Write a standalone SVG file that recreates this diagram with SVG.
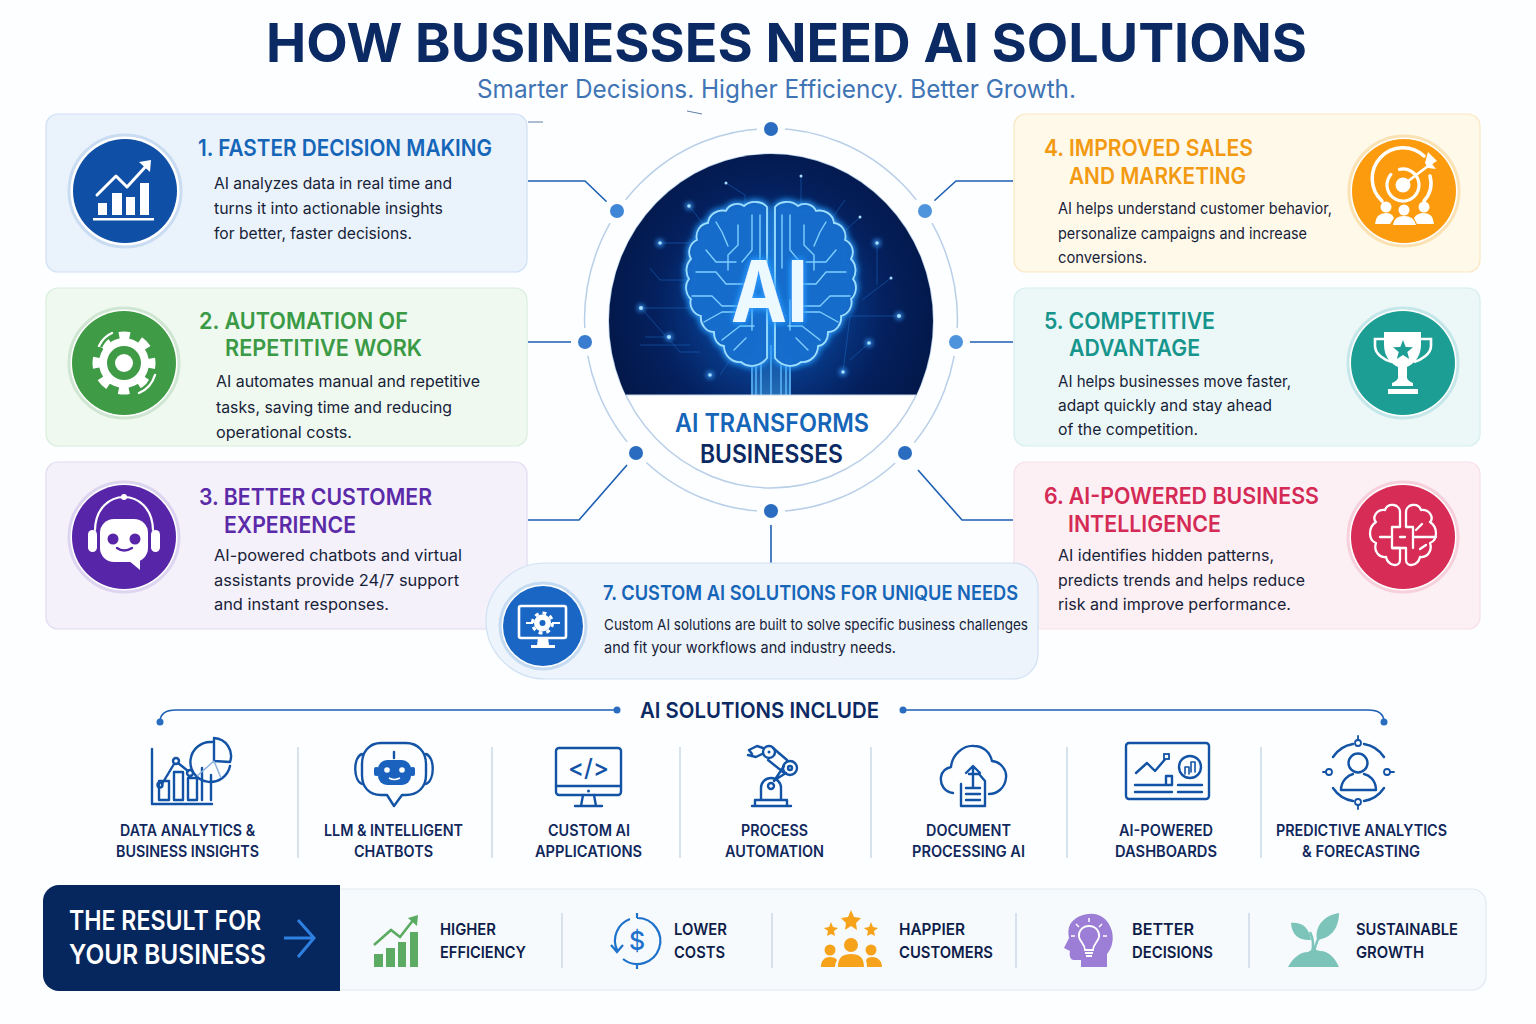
<svg xmlns="http://www.w3.org/2000/svg" width="1536" height="1024" viewBox="0 0 1536 1024">
<defs>
<style>
text{font-family:"Inter","Liberation Sans",sans-serif}
.h{font-size:23px;font-weight:600}
.b{font-size:16px;fill:#172238}
.lab{font-size:15.5px;font-weight:600;fill:#10285c}
.res{font-size:16.5px;font-weight:600;fill:#0e1d4a}
.ic{fill:none;stroke:#1253a6;stroke-width:2.4;stroke-linecap:round;stroke-linejoin:round}
.w{fill:none;stroke:#fff;stroke-width:3;stroke-linecap:round;stroke-linejoin:round}
.conn{fill:none;stroke:#1c5fb4;stroke-width:1.6}
.dot{stroke:none}
.sep{stroke:#ccd9e8;stroke-width:1.5}
.tr{fill:none;stroke:#7fd0ff;stroke-width:1.4;stroke-linecap:round;stroke-linejoin:round}
.bg{fill:none;stroke:#1a66bd;stroke-width:1;opacity:.55}
.halo{fill:#fff;stroke-width:3}
</style>
<radialGradient id="core" cx="50%" cy="46%" r="52%">
<stop offset="0" stop-color="#0c5cc0"/><stop offset=".35" stop-color="#083c8c"/><stop offset=".68" stop-color="#04205e"/><stop offset="1" stop-color="#031849"/>
</radialGradient>
<linearGradient id="beam" x1="0" y1="0" x2="0" y2="1"><stop offset="0" stop-color="#2fa0ff" stop-opacity=".1"/><stop offset="1" stop-color="#49b6ff" stop-opacity=".85"/></linearGradient>
<filter id="glow" x="-30%" y="-30%" width="160%" height="160%"><feGaussianBlur in="SourceAlpha" stdDeviation="3.5" result="b"/><feFlood flood-color="#2c9cff"/><feComposite in2="b" operator="in" result="g"/><feMerge><feMergeNode in="g"/><feMergeNode in="g"/><feMergeNode in="SourceGraphic"/></feMerge></filter>
<filter id="soft" x="-100%" y="-100%" width="300%" height="300%"><feGaussianBlur stdDeviation="2"/></filter>
<clipPath id="coreClip"><path d="M609 395V100H933V395Z"/></clipPath>
<path id="hemi" d="M767 207C762 201 751 200 744 206C738 202 729 204 726 211C718 209 709 214 708 223C700 224 695 232 697 240C690 243 687 252 691 259C686 264 685 273 689 279C684 285 686 295 691 299C689 306 693 314 701 316C700 324 706 332 714 332C714 340 718 345 724 346C724 355 732 363 741 362C748 368 760 367 767 358Z"/>
<g id="hemiTraces">
<path d="M752 215V250L742 262M738 225V245L728 255V270M722 232L728 246M706 250L716 262L736 262M696 272H716L726 284H744M692 296H712L722 306H742M704 322L722 312H738M722 340L740 326H754M752 300V330M760 215V268M716 222L722 232M734 350L746 338"/>
</g>
</defs>
<rect width="1536" height="1024" fill="#fdfeff"/>
<text x="266" y="62" font-size="54" font-weight="700" fill="#0b2a63" textLength="1041" lengthAdjust="spacingAndGlyphs">HOW BUSINESSES NEED AI SOLUTIONS</text>
<text x="477" y="98" font-size="25" fill="#3f74b5" textLength="599" lengthAdjust="spacingAndGlyphs">Smarter Decisions. Higher Efficiency. Better Growth.</text>

<g id="connectors">
<path class="conn" d="M528 181H585L608 203"/>
<path class="conn" d="M1013 181H956L934 201"/>
<path class="conn" d="M528 342H573"/>
<path class="conn" d="M969 342H1013"/>
<path class="conn" d="M528 520H579L627 465"/>
<path class="conn" d="M1013 520H962L918 470"/>
<path class="conn" d="M771 524V563"/>
<path class="conn" d="M617 710H176Q160 710 160 722"/>
<path class="conn" d="M903 710H1368Q1384 710 1384 722"/>
<circle class="dot" cx="617" cy="710" r="3.5" fill="#2a6cc0"/>
<circle class="dot" cx="160" cy="722" r="3.5" fill="#2a6cc0"/>
<circle class="dot" cx="903" cy="710" r="3.5" fill="#2a6cc0"/>
<circle class="dot" cx="1384" cy="722" r="3.5" fill="#2a6cc0"/>
<path d="M528 122H543M687 111L702 114" stroke="#5f7fa8" stroke-width="1" fill="none"/>
</g>

<g id="node-1">
<rect x="46" y="114" width="481" height="158" rx="12" fill="#eaf3fc" stroke="#cfe0f3" stroke-width="1.2"/>
<circle class="halo" cx="125" cy="191" r="56" stroke="#c9dcf2"/>
<circle cx="125" cy="191" r="52" fill="#0f4fa6"/>
<path fill="#fff" d="M98 203h9v12h-9zM112 193h10v22h-10zM126 197h9v18h-9zM140 183h9v32h-9zM93 218h61v2.6H93z"/>
<path class="w" d="M97 195L116 176L127 187L148 164"/>
<path fill="#fff" d="M139 162L151 160L150 172Z"/>
<text class="h" x="198" y="156" fill="#1565b8" textLength="294" lengthAdjust="spacingAndGlyphs">1. FASTER DECISION MAKING</text>
<text class="b" x="214" y="189" textLength="238" lengthAdjust="spacingAndGlyphs">AI analyzes data in real time and</text>
<text class="b" x="214" y="214" textLength="229" lengthAdjust="spacingAndGlyphs">turns it into actionable insights</text>
<text class="b" x="214" y="239" textLength="198" lengthAdjust="spacingAndGlyphs">for better, faster decisions.</text>
</g>

<g id="node-2">
<rect x="46" y="288" width="481" height="158" rx="12" fill="#eff9f0" stroke="#d9eddc" stroke-width="1.2"/>
<circle class="halo" cx="124" cy="363" r="55" stroke="#cfe6d2"/>
<circle cx="124" cy="363" r="52" fill="#3f9b45"/>
<circle cx="124" cy="363" r="25" fill="#fff"/>
<circle cx="124" cy="363" r="27" fill="none" stroke="#fff" stroke-width="9" stroke-dasharray="10.6" stroke-dashoffset="5.3"/>
<circle cx="124" cy="363" r="17" fill="#3f9b45"/>
<circle cx="124" cy="363" r="9" fill="#fff"/>
<path d="M99 346Q103 337 112 333M139 393Q151 388 155 375" fill="none" stroke="#3f9b45" stroke-width="7"/>
<path class="w" style="stroke-width:2.4" d="M99 346Q103 337 112 333M139 393Q151 388 155 375"/>
<text class="h" x="199" y="329" fill="#3b9a45" textLength="209" lengthAdjust="spacingAndGlyphs">2. AUTOMATION OF</text>
<text class="h" x="225" y="356" fill="#3b9a45" textLength="197" lengthAdjust="spacingAndGlyphs">REPETITIVE WORK</text>
<text class="b" x="216" y="387" textLength="264" lengthAdjust="spacingAndGlyphs">AI automates manual and repetitive</text>
<text class="b" x="216" y="413" textLength="236" lengthAdjust="spacingAndGlyphs">tasks, saving time and reducing</text>
<text class="b" x="216" y="438" textLength="136" lengthAdjust="spacingAndGlyphs">operational costs.</text>
</g>

<g id="node-3">
<rect x="46" y="462" width="481" height="167" rx="12" fill="#f5f1fb" stroke="#e2daf2" stroke-width="1.2"/>
<circle class="halo" cx="124" cy="537" r="55" stroke="#ddd5f0"/>
<circle cx="124" cy="537" r="52" fill="#5726a8"/>
<path class="w" style="stroke-width:2.2" d="M95 530C96 486 152 486 153 530"/>
<circle cx="124" cy="497" r="3" fill="#fff"/>
<rect x="88" y="530" width="9" height="22" rx="4.500" fill="#fff"/>
<rect x="151" y="530" width="9" height="22" rx="4.500" fill="#fff"/>
<rect x="100" y="519" width="48" height="43" rx="14" fill="#fff"/>
<path fill="#fff" d="M128 560L140 570V556Z"/>
<circle cx="113" cy="539" r="5.500" fill="#5726a8"/><circle cx="135" cy="539" r="5.500" fill="#5726a8"/>
<path d="M117 548Q124 553 132 548" fill="none" stroke="#5726a8" stroke-width="2.4" stroke-linecap="round"/>
<text class="h" x="199" y="505" fill="#5b2aa8" textLength="233" lengthAdjust="spacingAndGlyphs">3. BETTER CUSTOMER</text>
<text class="h" x="224" y="533" fill="#5b2aa8" textLength="132" lengthAdjust="spacingAndGlyphs">EXPERIENCE</text>
<text class="b" x="214" y="561" textLength="248" lengthAdjust="spacingAndGlyphs">AI-powered chatbots and virtual</text>
<text class="b" x="214" y="586" textLength="245" lengthAdjust="spacingAndGlyphs">assistants provide 24/7 support</text>
<text class="b" x="214" y="610" textLength="175" lengthAdjust="spacingAndGlyphs">and instant responses.</text>
</g>

<g id="node-4">
<rect x="1014" y="114" width="466" height="158" rx="12" fill="#fff9ea" stroke="#fae6c0" stroke-width="1.2"/>
<circle class="halo" cx="1404" cy="191" r="55" stroke="#fbe2b4"/>
<circle cx="1404" cy="191" r="52" fill="#fb9b0d"/>
<g fill="none" stroke="#fff" stroke-linecap="round">
<path stroke-width="3.5" d="M1382 201A26 26 0 1 1 1424 156M1430 176A27 27 0 0 1 1424 201"/>
<circle cx="1403" cy="185" r="16" stroke-width="3.2" stroke-dasharray="78 10" transform="rotate(-60 1403 185)"/>
<path stroke-width="2.6" d="M1403 185L1432 163"/>
</g>
<circle cx="1403" cy="185" r="7.500" fill="#fff"/>
<path fill="#fff" d="M1425 163L1428 152L1433 157L1437 161L1432 164L1436 169L1428 168Z"/>
<circle cx="1386" cy="207" r="5.500" fill="#fff"/><circle cx="1404" cy="210" r="5.500" fill="#fff"/><circle cx="1424" cy="207" r="5.500" fill="#fff"/>
<path fill="#fff" d="M1375 224Q1376 213 1386 213Q1392 213 1394 218L1390 224ZM1393 225Q1394 216 1404 216Q1414 216 1416 225ZM1417 224L1414 218Q1417 213 1424 213Q1433 213 1434 224Z"/>
<text class="h" x="1044" y="156" fill="#f29a12" textLength="209" lengthAdjust="spacingAndGlyphs">4. IMPROVED SALES</text>
<text class="h" x="1069" y="184" fill="#f29a12" textLength="177" lengthAdjust="spacingAndGlyphs">AND MARKETING</text>
<text class="b" x="1058" y="214" textLength="274" lengthAdjust="spacingAndGlyphs">AI helps understand customer behavior,</text>
<text class="b" x="1058" y="239" textLength="249" lengthAdjust="spacingAndGlyphs">personalize campaigns and increase</text>
<text class="b" x="1058" y="263" textLength="89" lengthAdjust="spacingAndGlyphs">conversions.</text>
</g>

<g id="node-5">
<rect x="1014" y="288" width="466" height="158" rx="12" fill="#ecf8f7" stroke="#d6edee" stroke-width="1.2"/>
<circle class="halo" cx="1403" cy="363" r="55" stroke="#c5e7ea"/>
<circle cx="1403" cy="363" r="52" fill="#1d9e94"/>
<path fill="#fff" d="M1384 332H1421V345C1421 358 1412 365 1407 367V378Q1408 381 1413 383V386H1392V383Q1397 381 1398 378V367C1393 365 1384 358 1384 345Z"/>
<path d="M1384 339H1375V346C1375 354 1384 360 1392 362M1421 339H1431V346C1431 354 1421 360 1414 362" fill="none" stroke="#fff" stroke-width="2.600"/>
<rect x="1388" y="389" width="30" height="5" fill="#fff"/>
<path fill="#1d9e94" d="M1403 340L1405.7 346.9L1413 347.3L1407.3 352L1409.2 359.1L1403 355.1L1396.8 359.1L1398.7 352L1393 347.3L1400.3 346.9Z"/>
<text class="h" x="1044" y="329" fill="#17958c" textLength="171" lengthAdjust="spacingAndGlyphs">5. COMPETITIVE</text>
<text class="h" x="1069" y="356" fill="#17958c" textLength="131" lengthAdjust="spacingAndGlyphs">ADVANTAGE</text>
<text class="b" x="1058" y="387" textLength="233" lengthAdjust="spacingAndGlyphs">AI helps businesses move faster,</text>
<text class="b" x="1058" y="411" textLength="214" lengthAdjust="spacingAndGlyphs">adapt quickly and stay ahead</text>
<text class="b" x="1058" y="435" textLength="140" lengthAdjust="spacingAndGlyphs">of the competition.</text>
</g>

<g id="node-6">
<rect x="1014" y="462" width="466" height="167" rx="12" fill="#fcf0f4" stroke="#f7dfe6" stroke-width="1.2"/>
<circle class="halo" cx="1403" cy="537" r="55" stroke="#f6d0da"/>
<circle cx="1403" cy="537" r="52" fill="#d62c55"/>
<g class="w" style="stroke-width:2.3">
<path d="M1392 548V527H1400V512C1400 504 1388 502 1385 510C1376 509 1372 518 1376 522C1368 527 1368 540 1376 543C1373 552 1380 558 1386 557C1388 566 1400 568 1400 560V548Z"/>
<path d="M1413 548V527H1406V512C1406 504 1418 502 1421 510C1430 509 1434 518 1430 522C1438 527 1438 540 1430 543C1433 552 1426 558 1420 557C1418 566 1406 568 1406 560V548H1392"/>
<path d="M1380 537H1390M1414 537H1436M1422 524L1416 530M1420 549L1426 545M1400 537H1405"/>
</g>
<text class="h" x="1044" y="504" fill="#d42a55" textLength="275" lengthAdjust="spacingAndGlyphs">6. AI-POWERED BUSINESS</text>
<text class="h" x="1068" y="532" fill="#d42a55" textLength="153" lengthAdjust="spacingAndGlyphs">INTELLIGENCE</text>
<text class="b" x="1058" y="561" textLength="216" lengthAdjust="spacingAndGlyphs">AI identifies hidden patterns,</text>
<text class="b" x="1058" y="586" textLength="247" lengthAdjust="spacingAndGlyphs">predicts trends and helps reduce</text>
<text class="b" x="1058" y="610" textLength="233" lengthAdjust="spacingAndGlyphs">risk and improve performance.</text>
</g>

<g id="node-7">
<path d="M546 563H1013A25 25 0 0 1 1038 588V654A25 25 0 0 1 1013 679H546C512 679 486 652 486 621C486 590 512 563 546 563Z" fill="#edf4fc" stroke="#cfe0f3" stroke-width="1.2"/>
<circle class="halo" cx="543" cy="626" r="43" stroke="#c5dbf2"/>
<circle cx="543" cy="626" r="40" fill="#1a66c4"/>
<rect x="519" y="606" width="47" height="32" rx="2" fill="none" stroke="#fff" stroke-width="2.600"/>
<path fill="#fff" d="M538 638H548L549 645H555V648H531V645H537Z"/>
<circle cx="542.500" cy="623" r="8.500" fill="#fff"/>
<circle cx="542.500" cy="623" r="10" fill="none" stroke="#fff" stroke-width="3" stroke-dasharray="3.900"/>
<circle cx="542.500" cy="623" r="3" fill="#1a66c4"/>
<path d="M526 623H533M552 623H560" stroke="#fff" stroke-width="2"/>
<text x="603" y="600" font-size="20.500" font-weight="600" fill="#1565b8" textLength="415" lengthAdjust="spacingAndGlyphs">7. CUSTOM AI SOLUTIONS FOR UNIQUE NEEDS</text>
<text class="b" x="604" y="630" style="font-size:15px" textLength="424" lengthAdjust="spacingAndGlyphs">Custom AI solutions are built to solve specific business challenges</text>
<text class="b" x="604" y="653" style="font-size:15px" textLength="292" lengthAdjust="spacingAndGlyphs">and fit your workflows and industry needs.</text>
</g>

<g id="node-center">
<ellipse cx="771" cy="320" rx="186.500" ry="191.500" fill="none" stroke="#b9cfe8" stroke-width="1.500"/>
<ellipse cx="771" cy="321" rx="162" ry="167" fill="#fff" stroke="#b9cfe8" stroke-width="1.500"/>
<g clip-path="url(#coreClip)">
<ellipse cx="771" cy="321" rx="162" ry="167" fill="url(#core)"/>
<g class="bg">
<path d="M689 206L720 245V258M660 243H690M641 308H690M641 308L680 352H700M669 337H645M726 183L745 195V220M801 176V215M860 217L835 240M877 243V285M891 278L862 300M899 316H850L843 372M869 343L850 360M650 268L660 280H685M845 200L825 228M720 375L740 345M640 345H690"/>
</g>
<g fill="#3aa2ff" opacity=".7" filter="url(#soft)">
<circle cx="689" cy="206" r="4"/><circle cx="660" cy="243" r="4"/><circle cx="641" cy="308" r="4"/><circle cx="669" cy="337" r="4"/><circle cx="710" cy="375" r="4"/><circle cx="877" cy="243" r="4"/><circle cx="899" cy="316" r="4"/><circle cx="869" cy="343" r="4"/><circle cx="843" cy="372" r="4"/>
</g>
<g fill="#a6ddff">
<circle cx="689" cy="206" r="1.800"/><circle cx="660" cy="243" r="1.800"/><circle cx="641" cy="308" r="2"/><circle cx="669" cy="337" r="2"/><circle cx="710" cy="375" r="1.800"/><circle cx="801" cy="176" r="1.500"/><circle cx="860" cy="217" r="1.500"/><circle cx="877" cy="243" r="1.800"/><circle cx="891" cy="278" r="1.500"/><circle cx="899" cy="316" r="2"/><circle cx="869" cy="343" r="1.800"/><circle cx="843" cy="372" r="1.800"/><circle cx="726" cy="183" r="1.500"/>
</g>
<path d="M751 340H791V395H751Z" fill="url(#beam)" opacity=".55"/>
<path d="M752 355V395M756 345V395M761 345V395M771 345V395M781 345V395M786 345V395M790 355V395" stroke="#62beff" stroke-width="1.400" fill="none"/>
<g filter="url(#glow)">
<use href="#hemi" fill="#0d58b8" fill-opacity=".75" stroke="#9adfff" stroke-width="1.800"/>
<use href="#hemi" transform="translate(1542 0) scale(-1 1)" fill="#0d58b8" fill-opacity=".75" stroke="#9adfff" stroke-width="1.800"/>
</g>
<g class="tr">
<use href="#hemiTraces"/>
<use href="#hemiTraces" transform="translate(1542 0) scale(-1 1)"/>
</g>
<text x="731" y="322" font-size="85" font-weight="700" fill="#ecf9ff" filter="url(#glow)" textLength="77" lengthAdjust="spacingAndGlyphs">AI</text>
</g>
<path d="M626 395H916" stroke="#c5d6ea" stroke-width="1"/>
<text x="675" y="432" font-size="25" font-weight="600" fill="#1565b8" textLength="194" lengthAdjust="spacingAndGlyphs">AI TRANSFORMS</text>
<text x="700" y="463" font-size="25" font-weight="600" fill="#0b2a63" textLength="143" lengthAdjust="spacingAndGlyphs">BUSINESSES</text>
<g fill="#fdfeff">
<circle cx="771" cy="129" r="14"/><circle cx="771" cy="511" r="14"/><circle cx="585" cy="342" r="14"/><circle cx="956" cy="342" r="14"/><circle cx="617" cy="211" r="14"/><circle cx="925" cy="211" r="14"/><circle cx="636" cy="453" r="14"/><circle cx="905" cy="453" r="14"/>
</g>
<circle cx="771" cy="129" r="7" fill="#2a6cc0"/><circle cx="771" cy="511" r="7" fill="#2a6cc0"/><circle cx="585" cy="342" r="7" fill="#3a7cd0"/><circle cx="956" cy="342" r="7" fill="#4e94dc"/><circle cx="617" cy="211" r="7" fill="#3f86d6"/><circle cx="925" cy="211" r="7" fill="#4e94dc"/><circle cx="636" cy="453" r="7" fill="#2a6cc0"/><circle cx="905" cy="453" r="7" fill="#2a6cc0"/>
</g>

<g id="solutions-title"><text x="640" y="718" font-size="22" font-weight="600" fill="#0b2a63" textLength="239" lengthAdjust="spacingAndGlyphs">AI SOLUTIONS INCLUDE</text></g>

<g id="sol-separators">
<path class="sep" d="M298 747V858M492 747V858M680 747V858M871 747V858M1067 747V858M1261 747V858"/>
</g>

<g id="sol-1">
<path class="ic" d="M152 749V804H212M159 800V781H169V800ZM174 800V772H183V800ZM188 800V778H197V800ZM202 800V768M211 775V800M162 784L174 764M178 763L188 771"/>
<circle class="ic" cx="160" cy="785" r="2.500"/><circle class="ic" cx="176" cy="761" r="3"/><circle class="ic" cx="190" cy="773" r="3"/>
<path class="ic" d="M214 738V761L230 762A18 18 0 0 0 214 738ZM212 742A20 20 0 1 0 230 766"/>
<path d="M214 761L197 776M214 761L221 778" stroke="#8fb2dc" stroke-width="1.500"/>
<text class="lab" x="120" y="836" textLength="135" lengthAdjust="spacingAndGlyphs">DATA ANALYTICS &amp;</text>
<text class="lab" x="116" y="857" textLength="143" lengthAdjust="spacingAndGlyphs">BUSINESS INSIGHTS</text>
</g>
<g id="sol-2">
<path class="ic" d="M381 743H406C418 743 426 752 426 764V775C426 787 418 795 406 795H402L394 806L387 795H381C369 795 362 787 362 775V764C362 752 369 743 381 743Z"/>
<path class="ic" d="M362 754C353 757 353 780 362 784M426 754C435 757 435 780 426 784M394 752V758"/>
<rect x="378" y="760" width="33" height="25" rx="9" fill="#1a62bd"/>
<rect x="374" y="767" width="5" height="9" rx="2" fill="#1a62bd"/><rect x="410" y="767" width="5" height="9" rx="2" fill="#1a62bd"/>
<circle cx="387" cy="770" r="2.800" fill="#fff"/><circle cx="402" cy="770" r="2.800" fill="#fff"/>
<path d="M389 778Q394 781 400 778" stroke="#fff" stroke-width="1.500" fill="none"/>
<text class="lab" x="324" y="836" textLength="139" lengthAdjust="spacingAndGlyphs">LLM &amp; INTELLIGENT</text>
<text class="lab" x="354" y="857" textLength="79" lengthAdjust="spacingAndGlyphs">CHATBOTS</text>
</g>
<g id="sol-3">
<rect class="ic" x="556" y="748" width="65" height="47" rx="3"/>
<path class="ic" d="M556 786H621M583 795L581 806M594 795L596 806M575 806H602"/>
<circle cx="588.500" cy="791" r="1.500" fill="#1253a6"/>
<text x="588.500" y="776" font-size="24" font-weight="500" fill="#1253a6" text-anchor="middle">&lt;/&gt;</text>
<text class="lab" x="548" y="836" textLength="82" lengthAdjust="spacingAndGlyphs">CUSTOM AI</text>
<text class="lab" x="535" y="857" textLength="107" lengthAdjust="spacingAndGlyphs">APPLICATIONS</text>
</g>
<g id="sol-4">
<path class="ic" d="M752 806H791M755 806V800H787V806M761 800V788A10 10 0 0 1 781 788V800M778 778L786 773M774 781L784 766M773 748L787 760M768 760L783 772M763 748L757 746L749 750M762 754L756 757L748 755M749 750L752 754"/>
<circle class="ic" cx="771" cy="786" r="3"/><circle class="ic" cx="790" cy="768" r="7"/><circle class="ic" cx="790" cy="768" r="2"/><circle class="ic" cx="769" cy="752" r="6"/><circle cx="769" cy="752" r="1.500" fill="#1253a6"/>
<text class="lab" x="741" y="836" textLength="67" lengthAdjust="spacingAndGlyphs">PROCESS</text>
<text class="lab" x="725" y="857" textLength="99" lengthAdjust="spacingAndGlyphs">AUTOMATION</text>
</g>
<g id="sol-5">
<path class="ic" d="M953 793C944 792 940 784 941 777C942 771 946 768 951 767C952 755 963 745 974 746C983 746 990 752 992 761C1001 762 1007 770 1006 778C1005 788 997 794 989 794"/>
<path class="ic" d="M961 784V806H985V781L979 774H969M973 787V767M966 773L973 766L980 773M966 788H980M966 794H980M966 800H980"/>
<text class="lab" x="926" y="836" textLength="85" lengthAdjust="spacingAndGlyphs">DOCUMENT</text>
<text class="lab" x="912" y="857" textLength="113" lengthAdjust="spacingAndGlyphs">PROCESSING AI</text>
</g>
<g id="sol-6">
<rect class="ic" x="1126" y="743" width="83" height="56" rx="3"/>
<path class="ic" d="M1136 773L1147 763L1155 771L1167 757M1135 785H1172M1135 792H1172M1178 785H1202M1178 792H1202M1166 785V776H1172V785"/>
<rect x="1164" y="754" width="5" height="5" fill="#fff" stroke="#1253a6" stroke-width="1.800"/>
<circle class="ic" cx="1190" cy="767" r="11"/>
<path class="ic" d="M1185 774V767H1189V774M1191 772V762H1195V772" style="stroke-width:1.600"/>
<text class="lab" x="1119" y="836" textLength="94" lengthAdjust="spacingAndGlyphs">AI-POWERED</text>
<text class="lab" x="1115" y="857" textLength="102" lengthAdjust="spacingAndGlyphs">DASHBOARDS</text>
</g>
<g id="sol-7">
<path class="ic" d="M1333 757A30 30 0 0 1 1353 744M1364 744A30 30 0 0 1 1384 757M1384 788A30 30 0 0 1 1364 801M1353 801A30 30 0 0 1 1333 788"/>
<circle class="ic" cx="1358" cy="763" r="9.500"/>
<path class="ic" d="M1341 790C1341 780 1349 775 1353 774M1364 774C1369 775 1376 780 1376 790H1341"/>
<g class="ic" style="stroke-width:1.800"><circle cx="1358" cy="743" r="3"/><circle cx="1358" cy="802" r="3"/><circle cx="1329" cy="772" r="3"/><circle cx="1387" cy="772" r="3"/></g>
<path class="ic" d="M1358 736V740M1358 805V809M1323 772H1326M1390 772H1394" style="stroke-width:1.800"/>
<text class="lab" x="1276" y="836" textLength="171" lengthAdjust="spacingAndGlyphs">PREDICTIVE ANALYTICS</text>
<text class="lab" x="1302" y="857" textLength="118" lengthAdjust="spacingAndGlyphs">&amp; FORECASTING</text>
</g>

<g id="result-bar">
<rect x="300" y="889" width="1186" height="101" rx="14" fill="#f7fafd" stroke="#dfe8f2" stroke-width="1.200"/>
<path d="M59 885H340V991H59A16 16 0 0 1 43 975V901A16 16 0 0 1 59 885Z" fill="#06265e"/>
<text x="69" y="930" font-size="27" font-weight="600" fill="#fff" textLength="192" lengthAdjust="spacingAndGlyphs">THE RESULT FOR</text>
<text x="69" y="964" font-size="27" font-weight="600" fill="#fff" textLength="197" lengthAdjust="spacingAndGlyphs">YOUR BUSINESS</text>
<path d="M284 938H312M298 920L314 938L298 957" fill="none" stroke="#2f80e0" stroke-width="3"/>
<path class="sep" d="M562 913V968M772 913V968M1016 913V968M1249 913V968"/>
</g>
<g id="res-1">
<path fill="#5cab62" d="M374 954h9v13h-9zM386 948h9v19h-9zM398 942h8v25h-8zM410 932h8v35h-8z"/>
<path d="M374 945L391 930L400 937L414 919" fill="none" stroke="#5cab62" stroke-width="2.600"/>
<path fill="#5cab62" d="M408 918L418 915L417 926Z"/>
<text class="res" x="440" y="935" textLength="56" lengthAdjust="spacingAndGlyphs">HIGHER</text>
<text class="res" x="440" y="958" textLength="86" lengthAdjust="spacingAndGlyphs">EFFICIENCY</text>
</g>
<g id="res-2">
<path d="M637 918A23 23 0 1 1 623 959M630 919A23 23 0 0 0 617 950M637 913V918M637 964V969M611 945L617 952L623 945" fill="none" stroke="#1f72cc" stroke-width="2.200"/>
<text x="637" y="950" font-size="25" font-weight="500" fill="#1f72cc" text-anchor="middle">$</text>
<text class="res" x="674" y="935" textLength="53" lengthAdjust="spacingAndGlyphs">LOWER</text>
<text class="res" x="674" y="958" textLength="51" lengthAdjust="spacingAndGlyphs">COSTS</text>
</g>
<g id="res-3" fill="#f6a21a">
<path d="M851 910L854 917L861 918L856 923L857 930L851 926L845 930L846 923L841 918L848 917Z"/>
<path d="M831 922L833 927L838 928L834 931L835 936L831 934L827 936L828 931L824 928L829 927Z"/>
<path d="M871 922L873 927L878 928L874 931L875 936L871 934L867 936L868 931L864 928L869 927Z"/>
<circle cx="851" cy="945" r="7"/><circle cx="830" cy="950" r="5.500"/><circle cx="871" cy="950" r="5.500"/>
<path d="M838 967C838 957 843 954 851 954C859 954 864 957 864 967ZM821 967C821 960 825 957 830 957C833 957 836 958 837 960Q835 963 835 967ZM866 960C867 958 869 957 872 957C877 957 882 960 882 967H867Q867 963 866 960Z"/>
<text class="res" x="899" y="935" textLength="66" lengthAdjust="spacingAndGlyphs">HAPPIER</text>
<text class="res" x="899" y="958" textLength="94" lengthAdjust="spacingAndGlyphs">CUSTOMERS</text>
</g>
<g id="res-4">
<path fill="#9c7ed6" d="M1071 923C1078 913 1096 910 1105 919C1115 929 1115 945 1107 954V967H1081V960H1074C1070 960 1069 955 1070 951L1064 948L1069 938C1068 932 1068 928 1071 923Z"/>
<path d="M1089 926C1082 926 1078 932 1079 937C1080 942 1085 944 1085 950H1093C1093 944 1098 942 1099 937C1100 932 1096 926 1089 926ZM1085 953H1093M1086 956H1092" fill="none" stroke="#fff" stroke-width="1.800"/>
<path d="M1089 918V922M1076 924L1079 927M1102 924L1099 927M1071 936H1075M1103 936H1107" stroke="#fff" stroke-width="1.500"/>
<text class="res" x="1132" y="935" textLength="62" lengthAdjust="spacingAndGlyphs">BETTER</text>
<text class="res" x="1132" y="958" textLength="81" lengthAdjust="spacingAndGlyphs">DECISIONS</text>
</g>
<g id="res-5" fill="#7cc4ba">
<path d="M1288 967C1293 958 1300 952 1308 952L1313 949L1320 951C1329 951 1335 958 1339 967Z"/>
<path d="M1312 953C1314 945 1313 938 1310 932M1314 953C1315 944 1319 936 1325 929" fill="none" stroke="#7cc4ba" stroke-width="2.500"/>
<path d="M1291 923C1300 922 1309 926 1311 940C1300 941 1292 936 1291 923Z"/>
<path d="M1339 913C1339 927 1332 938 1317 940C1314 926 1325 915 1339 913Z"/>
<text class="res" x="1356" y="935" textLength="102" lengthAdjust="spacingAndGlyphs">SUSTAINABLE</text>
<text class="res" x="1356" y="958" textLength="68" lengthAdjust="spacingAndGlyphs">GROWTH</text>
</g>
</svg>
